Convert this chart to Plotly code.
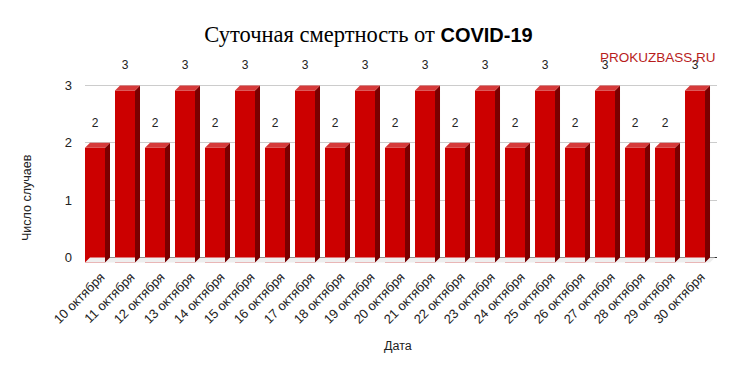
import plotly.graph_objects as go

dates = ["10 октября", "11 октября", "12 октября", "13 октября", "14 октября",
         "15 октября", "16 октября", "17 октября", "18 октября", "19 октября",
         "20 октября", "21 октября", "22 октября", "23 октября", "24 октября",
         "25 октября", "26 октября", "27 октября", "28 октября", "29 октября",
         "30 октября"]
deaths = [2, 3, 2, 3, 2, 3, 2, 3, 2, 3, 2, 3, 2, 3, 2, 3, 2, 3, 2, 2, 3]
y_ticks = [0, 1, 2, 3]

# 3D effect parameters (data units)
hw = 1/3      # half width of front face
dx = 1/6      # depth offset in x
dy = 0.087    # depth offset in y

xs = list(range(len(dates)))

# page has an 8px body margin; figure is sized/offset to compensate
OFF = 8
W, H = 737 - 2 * OFF, 371 - 2 * OFF
ML, MR, MT, MB = 85 - OFF, 20 - OFF, 51 - OFF, 105 - OFF

fig = go.Figure()

# floor
fig.add_trace(go.Scatter(
    x=[-hw, xs[-1] + hw + dx, xs[-1] + hw + dx + dx, -hw + dx, -hw],
    y=[-dy, -dy, 0, 0, -dy],
    fill="toself", fillcolor="#eeeeee", mode="lines", line=dict(width=0),
    hoverinfo="skip", showlegend=False))

# front faces
fig.add_trace(go.Bar(
    x=xs, y=deaths, base=[-dy] * len(xs), width=2 * hw,
    marker=dict(color="#cc0000", line=dict(width=0)),
    showlegend=False))

# side faces
sx, sy = [], []
for x, v in zip(xs, deaths):
    sx += [x + hw, x + hw + dx, x + hw + dx, x + hw, x + hw, None]
    sy += [-dy, 0, v, v - dy, -dy, None]
fig.add_trace(go.Scatter(x=sx, y=sy, fill="toself", fillcolor="#7a0000",
                         mode="lines", line=dict(width=0),
                         hoverinfo="skip", showlegend=False))

# top faces
tx, ty = [], []
for x, v in zip(xs, deaths):
    tx += [x - hw, x - hw + dx, x + hw + dx, x + hw, x - hw, None]
    ty += [v - dy, v, v, v - dy, v - dy, None]
fig.add_trace(go.Scatter(x=tx, y=ty, fill="toself", fillcolor="#d63a3a",
                         mode="lines", line=dict(width=0),
                         hoverinfo="skip", showlegend=False))

# value labels
fig.add_trace(go.Scatter(
    x=xs, y=[v + 0.33 for v in deaths], mode="text",
    text=[str(v) for v in deaths],
    textfont=dict(family="Liberation Sans, Arial", size=12, color="#222222"),
    hoverinfo="skip", showlegend=False))

fig.update_layout(
    width=W, height=H,
    margin=dict(l=ML, r=MR, t=MT, b=MB, autoexpand=False),
    paper_bgcolor="white", plot_bgcolor="white",
    title=dict(
        text="<span style='font-family:Liberation Serif;font-size:22.5px'>Суточная смертность от </span>"
             "<span style='font-family:Liberation Sans;font-size:20px'><b>COVID-19</b></span>",
        x=0.5, xanchor="center", y=1 - (35 - OFF) / H, yanchor="middle",
        font=dict(size=20, color="#000000")),
    xaxis=dict(
        range=[-hw, len(xs) - 1 + 0.733], automargin=False,
        tickmode="array", tickvals=xs, ticktext=dates, tickangle=-45,
        tickfont=dict(family="Liberation Sans, Arial", size=13, color="#222222"),
        showgrid=False, zeroline=False, showline=False, ticks="",
        ticklabelshift=6),
    yaxis=dict(
        range=[-0.15, 3.6], automargin=False,
        tickmode="array", tickvals=y_ticks,
        tickfont=dict(family="Liberation Sans, Arial", size=13, color="#222222"),
        showgrid=True, gridcolor="#cccccc", gridwidth=1,
        zeroline=True, zerolinecolor="#333333", zerolinewidth=1,
        ticks="", ticklabelstandoff=12),
    annotations=[
        dict(text="Число случаев", x=27, y=198, textangle=-90,
             font=dict(family="Liberation Sans, Arial", size=12.5, color="#222222")),
        dict(text="Дата", x=398, y=346,
             font=dict(family="Liberation Sans, Arial", size=12.5, color="#222222")),
        dict(text="PROKUZBASS.RU", x=718, y=57, xanchor="right",
             font=dict(family="Liberation Sans, Arial", size=13.5, color="#b81c1c")),
    ],
)

# convert page-pixel positions of annotations to paper coords
pw = W - ML - MR
ph = H - MT - MB
for a in fig.layout.annotations:
    a.xref = "paper"
    a.yref = "paper"
    a.showarrow = False
    if a.xanchor is None:
        a.xanchor = "center"
    a.yanchor = "middle"
    a.x = (a.x - OFF - ML) / pw
    a.y = (H - MB - (a.y - OFF)) / ph

fig.write_html("out.html")
